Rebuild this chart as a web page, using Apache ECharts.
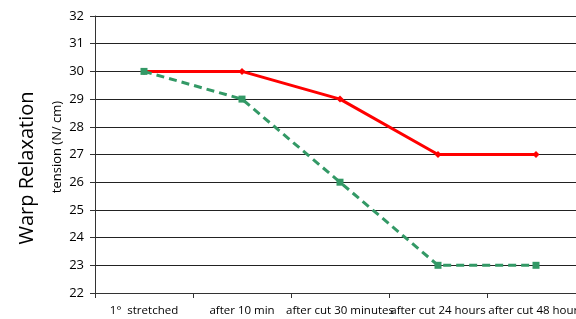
<!DOCTYPE html>
<html><head><meta charset="utf-8">
<script src="https://cdn.jsdelivr.net/npm/echarts@6/dist/echarts.min.js"></script>
<style>html,body{margin:0;padding:0;background:#fff}#c{width:576px;height:319px}</style>
</head><body><div id="c"></div>
<script>
const categories = ['1°  stretched', 'after 10 min', 'after cut 30 minutes', 'after cut 24 hours', 'after cut 48 hours'];
const redSeries = [30, 30, 29, 27, 27];
const greenSeries = [30, 29, 26, 23, 23];
const yTicks = [22, 32, 1];

const chart = echarts.init(document.getElementById('c'));
chart.setOption({
  animation: false,
  grid: { left: 95, width: 490, top: 16, bottom: 26, outerBoundsMode: 'none' },
  graphic: [
    { type: 'text', x: 17, y: 168, rotation: Math.PI/2,
      style: { text: 'Warp Relaxation', font: '20px "Open Sans", sans-serif', fill: '#000', align: 'center', verticalAlign: 'top' } },
    { type: 'text', x: 51, y: 147, rotation: Math.PI/2,
      style: { text: 'tension (N/ cm)', font: '13px "Open Sans", sans-serif', fill: '#000', align: 'center', verticalAlign: 'top' } }
  ],
  xAxis: {
    type: 'category', data: categories, boundaryGap: true,
    axisLine: { lineStyle: { color: '#333', width: 1 } },
    axisTick: { show: true, length: 5, lineStyle: { color: '#333' } },
    axisLabel: { interval: 0, color: '#000', fontFamily: 'Open Sans', fontSize: 11.5, margin: 12 }
  },
  yAxis: {
    type: 'value', min: yTicks[0], max: yTicks[1], interval: yTicks[2],
    axisLine: { show: true, lineStyle: { color: '#333', width: 1 } },
    axisTick: { show: true, length: 5, lineStyle: { color: '#333' } },
    splitLine: { lineStyle: { color: '#222', width: 1 } },
    axisLabel: { color: '#000', fontFamily: 'Open Sans', fontSize: 13, margin: 11 }
  },
  series: [
    { type: 'line', data: redSeries, symbol: 'diamond', symbolSize: 7,
      lineStyle: { color: '#ff0000', width: 3 }, itemStyle: { color: '#ff0000' } },
    { type: 'line', data: greenSeries, symbol: 'rect', symbolSize: 7,
      lineStyle: { color: '#339966', width: 3, type: [8, 5] }, itemStyle: { color: '#339966' } }
  ]
});
</script>
</body></html>
